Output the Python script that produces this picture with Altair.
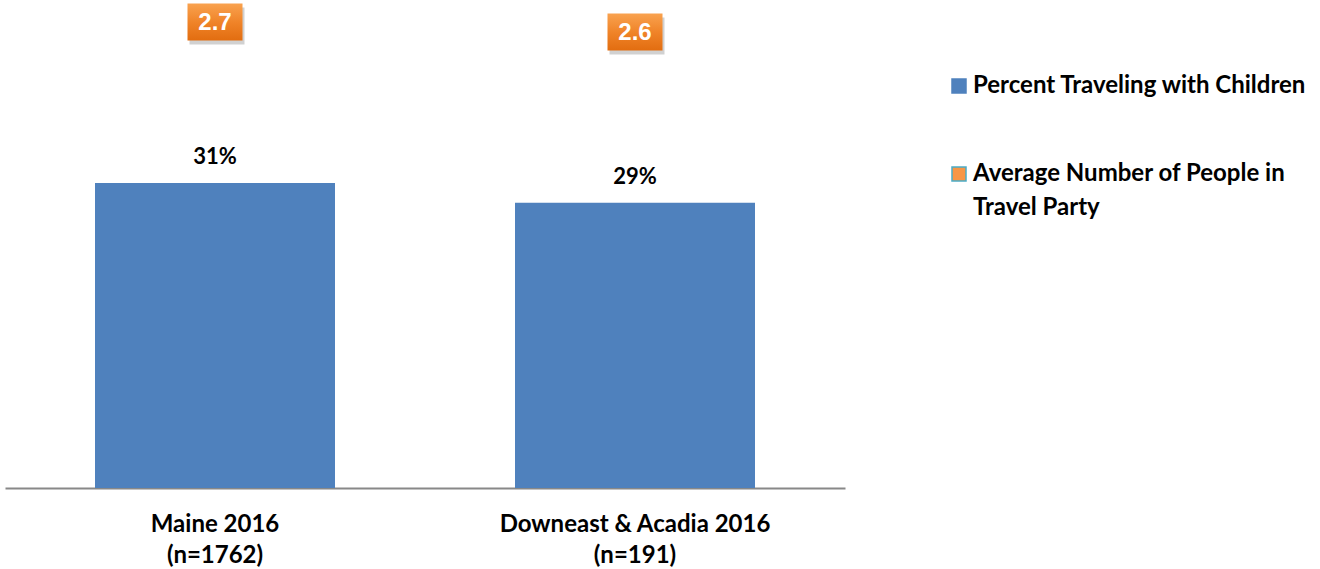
import altair as alt
import pandas as pd

categories = ["Maine 2016\n(n=1762)", "Downeast & Acadia 2016\n(n=191)"]
pct_children = [31, 29]
pct_labels = ["31%", "29%"]
avg_party = [2.7, 2.6]
avg_labels = ["2.7", "2.6"]
series = ["Percent Traveling with Children", "Average Number of People in Travel Party"]
colors = ["#4F81BD", "#F79646"]

df_bar = pd.DataFrame({"category": categories, "value": pct_children,
                       "label": pct_labels, "series": series[0]})
df_box = pd.DataFrame({"category": categories, "value": avg_party, "label": avg_labels})

FONT = "Lato"

x_enc = alt.X(
    "category:N", sort=categories,
    scale=alt.Scale(paddingInner=0, paddingOuter=0),
    axis=alt.Axis(title=None, labelAngle=0, labelExpr="split(datum.label, '\\n')",
                  labelFont=FONT, labelFontWeight="bold", labelFontSize=24,
                  labelLineHeight=31, labelColor="#000", labelPadding=24,
                  labelLimit=500, ticks=False, grid=False,
                  domainColor="#888888", domainWidth=2),
)

y1 = alt.Y("value:Q", scale=alt.Scale(domain=[0, 49.6]), axis=None)
y2 = alt.Y("value:Q", scale=alt.Scale(domain=[-1.96, 2.92]), axis=None)

legend = alt.Legend(
    title=None, orient="none", legendX=942, legendY=74, direction="vertical",
    symbolType="square", symbolSize=196, symbolStrokeWidth=1.5,
    symbolStrokeColor=alt.ExprRef(expr="datum.value == 'Average Number of People in Travel Party' ? '#4BACC6' : '#4F81BD'"),
    labelFont=FONT, labelFontWeight="bold", labelFontSize=24, labelColor="#000",
    labelOffset=2, labelLimit=600, rowPadding=64, padding=0,
    labelExpr="datum.label == 'Average Number of People in Travel Party' ? ['Average Number of People in', 'Travel Party'] : datum.label",
)

bars = alt.Chart(df_bar).mark_bar(size=240).encode(
    x=x_enc, y=y1,
    color=alt.Color("series:N", scale=alt.Scale(domain=series, range=colors), legend=legend),
)

bar_text = alt.Chart(df_bar).mark_text(
    font=FONT, fontWeight="bold", fontSize=22, color="#000", baseline="bottom", dy=-14
).encode(x=x_enc, y=y1, text="label:N")

box_shape = "M-1,-0.67L1,-0.67L1,0.67L-1,0.67Z"
grad = alt.LinearGradient(
    gradient="linear",
    stops=[alt.GradientStop(color="#F9A24F", offset=0),
           alt.GradientStop(color="#F08429", offset=0.5),
           alt.GradientStop(color="#E26D10", offset=1)],
    x1=0, x2=0, y1=0, y2=1,
)

shadow = alt.Chart(df_box).mark_point(
    shape=box_shape, size=3025, filled=True, fill="#000000", opacity=0.18,
    xOffset=2, yOffset=4, strokeWidth=0
).encode(x=x_enc, y=y2)

boxes = alt.Chart(df_box).mark_point(
    shape=box_shape, size=3025, filled=True, fill=grad, opacity=1, strokeWidth=0
).encode(x=x_enc, y=y2)

box_text = alt.Chart(df_box).mark_text(
    font="Liberation Sans", fontWeight="bold", fontSize=24, color="#FFFFFF",
    baseline="middle", dy=1
).encode(x=x_enc, y=y2, text="label:N")

chart = alt.layer(bars, bar_text, shadow, boxes, box_text).resolve_scale(
    y="independent"
).properties(
    width=840, height=488,
    padding={"left": 5, "top": 0, "right": 475, "bottom": 81},
    autosize=alt.AutoSizeParams(type="none"),
).configure(
    style={"guide-label": {"lineHeight": 34}}
).configure_view(stroke=None)

chart.save("out.html", embed_options={"renderer": "svg", "actions": False})
